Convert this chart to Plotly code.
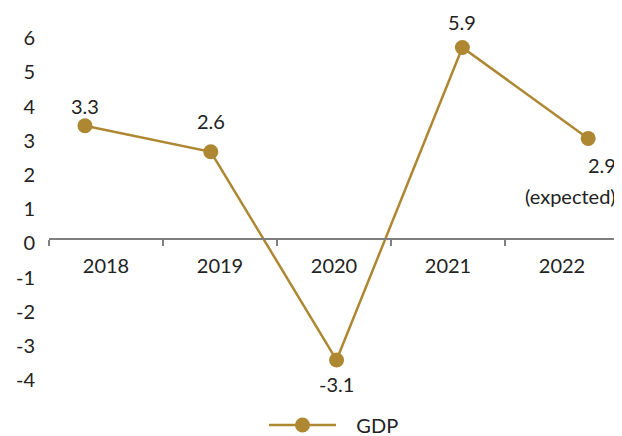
import plotly.graph_objects as go

years = ["2018", "2019", "2020", "2021", "2022"]
gdp_plotted = [3.32, 2.56, -3.53, 5.61, 2.95]
gdp_labels = ["3.3", "2.6", "-3.1", "5.9", "2.9"]
label_shift = [20, 31, -24, 25, -27]
y_ticks = [-4, -3, -2, -1, 0, 1, 2, 3, 4, 5, 6]
y_tick_text = [str(v) for v in y_ticks]

GOLD = "#AD8732"
TEXT = "#222222"
AXIS = "#7f7f7f"
FONT = "Lato"
FS = 20

fig = go.Figure()
# invisible trace that registers the category axis carrying the year labels
fig.add_trace(go.Scatter(
    x=years, y=[0] * len(years), xaxis="x", yaxis="y",
    mode="markers", marker=dict(opacity=0), showlegend=False, hoverinfo="skip",
))
fig.add_trace(go.Scatter(
    x=years, y=gdp_plotted, xaxis="x2", yaxis="y",
    mode="lines+markers", name="\u00a0\u00a0\u00a0GDP",
    line=dict(color=GOLD, width=2.5),
    marker=dict(color=GOLD, size=15),
))

# category index positions on the x2 axis (numeric-looking names would be read as indices)
for i, (v, lab, sh) in enumerate(zip(gdp_plotted, gdp_labels, label_shift)):
    if i == len(years) - 1:
        fig.add_annotation(x=i, y=v, xref="x2", yref="y", text=lab, showarrow=False,
                           xanchor="right", xshift=30, yshift=sh,
                           font=dict(size=FS, color=TEXT, family=FONT))
        fig.add_annotation(x=i, y=v, xref="x2", yref="y", text="(expected)", showarrow=False,
                           xanchor="right", xshift=30, yshift=-58,
                           font=dict(size=FS, color=TEXT, family=FONT))
    else:
        fig.add_annotation(x=i, y=v, xref="x2", yref="y", text=lab, showarrow=False,
                           yshift=sh, font=dict(size=FS, color=TEXT, family=FONT))

# page body has an 8px margin, so the figure starts at (8, 8) in the window
OFF = 8
W, H = 622 - OFF, 436 - OFF
ml, mr, mt, mb = 49 - OFF, 3, 20 - OFF, 41
plot_h = H - mt - mb
zero_px = 239.3 - OFF
ppu = 34.2
y_top = (zero_px - mt) / ppu
y_bot = -(H - mb - zero_px) / ppu
x_pos = (H - mb - zero_px) / plot_h

fig.update_layout(
    width=W, height=H,
    margin=dict(l=ml, r=mr, t=mt, b=mb, autoexpand=False),
    paper_bgcolor="white", plot_bgcolor="white",
    font=dict(family=FONT, size=FS, color=TEXT),
    showlegend=True,
    legend=dict(orientation="h", x=0.5, xanchor="center", y=-0.028, yanchor="top",
                itemwidth=67,
                font=dict(size=FS, color=TEXT, family=FONT)),
    xaxis=dict(
        type="category", categoryorder="array", categoryarray=years,
        range=[-0.5, 4.5], tickson="boundaries",
        ticks="outside", ticklen=6, tickwidth=1.5, tickcolor=AXIS,
        showgrid=False, zeroline=False,
        showline=True, linecolor=AXIS, linewidth=1.5,
        anchor="free", position=x_pos,
        tickfont=dict(size=FS, color=TEXT, family=FONT),
        ticklabelstandoff=9,
        automargin=False,
    ),
    xaxis2=dict(
        type="category", overlaying="x", anchor="y",
        showticklabels=False, showline=False, ticks="", showgrid=False, zeroline=False,
        range=[-0.286, 4.245], categoryorder="array", categoryarray=years,
        automargin=False,
    ),
    yaxis=dict(
        range=[y_bot, y_top], tickmode="array", tickvals=y_ticks, ticktext=y_tick_text,
        ticks="", showgrid=False, zeroline=False, showline=False,
        tickfont=dict(size=FS, color=TEXT, family=FONT),
        ticklabelstandoff=13, ticklabelshift=4, automargin=False,
    ),
)

fig.write_html("out.html")
